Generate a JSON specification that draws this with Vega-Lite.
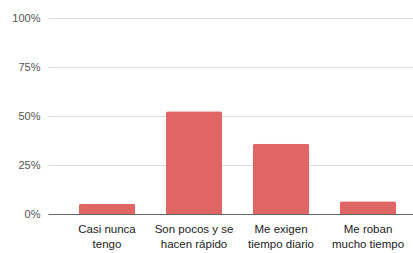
{
  "$schema": "https://vega.github.io/schema/vega-lite/v6.json",
  "width": 379,
  "height": 196,
  "autosize": {"type": "none"},
  "padding": {"left": 48, "top": 18, "right": 0, "bottom": 39},
  "background": "white",
  "data": {
    "values": [
      {"respuesta": "Casi nunca\ntengo", "porcentaje": 0.052},
      {"respuesta": "Son pocos y se\nhacen rápido", "porcentaje": 0.524},
      {"respuesta": "Me exigen\ntiempo diario", "porcentaje": 0.359},
      {"respuesta": "Me roban\nmucho tiempo", "porcentaje": 0.065}
    ]
  },
  "config": {
    "view": {"stroke": null},
    "font": "Liberation Sans"
  },
  "mark": {"type": "bar", "color": "#e06666", "cornerRadiusTopLeft": 2, "cornerRadiusTopRight": 2},
  "encoding": {
    "x": {
      "field": "respuesta",
      "type": "nominal",
      "sort": null,
      "scale": {"paddingInner": 0.356, "paddingOuter": 0.356},
      "axis": {
        "title": null,
        "labelAngle": 0,
        "labelExpr": "split(datum.label, '\\n')",
        "labelFontSize": 11.5,
        "labelColor": "#222222",
        "labelLineHeight": 15,
        "labelPadding": 9,
        "ticks": false,
        "domainColor": "#666666",
        "domainWidth": 1,
        "grid": false,
        "labelLimit": 200
      }
    },
    "y": {
      "field": "porcentaje",
      "type": "quantitative",
      "scale": {"domain": [0, 1]},
      "axis": {
        "title": null,
        "format": ".0%",
        "values": [0, 0.25, 0.5, 0.75, 1],
        "labelFontSize": 11,
        "labelColor": "#555555",
        "labelPadding": 8,
        "ticks": false,
        "domain": false,
        "gridColor": "#dddddd",
        "gridWidth": 1
      }
    }
  }
}
